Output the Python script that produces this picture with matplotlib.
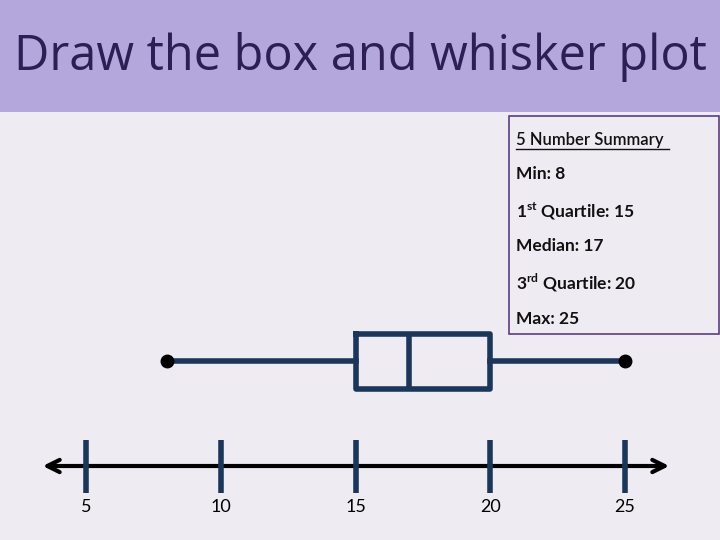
import matplotlib.pyplot as plt
from matplotlib.patches import Rectangle

# Data
tick_values = [5, 10, 15, 20, 25]
tick_labels = ['5', '10', '15', '20', '25']
summary_names = ['Min', '1st Quartile', 'Median', '3rd Quartile', 'Max']
summary_values = [8, 15, 17, 20, 25]

title = 'Draw the box and whisker plot'
bg_color = '#eeecf2'
band_color = '#b4a7db'
navy = '#1b3659'

fig = plt.figure(figsize=(7.2, 5.4), dpi=100, facecolor=bg_color)
ax = fig.add_axes([0, 0, 1, 1])
ax.set_facecolor(bg_color)

# x in data units (5 -> 86px, 25 -> 625px), y in pixel rows
px_per_unit = (625 - 86) / 20
x0 = 5 - 86 / px_per_unit
ax.set_xlim(x0, x0 + 720 / px_per_unit)
ax.set_ylim(540, 0)
ax.axis('off')

# header band
ax.add_patch(Rectangle((0, 1 - 112 / 540), 1, 112 / 540, transform=fig.transFigure,
                       facecolor=band_color, edgecolor='none', zorder=0))
fig.text(0.5, 1 - 57 / 540, title, ha='center', va='center',
         fontsize=35, color='#2d1f56', family='Open Sans')

# summary box
ax.add_patch(Rectangle((509 / 720, 1 - 334 / 540), 210 / 720, 218 / 540,
                       transform=fig.transFigure, facecolor='none',
                       edgecolor='#5b3f7e', lw=1.2, zorder=1))
fig.text(516 / 720, 1 - 140 / 540, '5 Number Summary', ha='left', va='center',
         fontsize=12, color='#111111', family='Lato', fontweight='semibold')
fig.add_artist(plt.Line2D([516 / 720, 669 / 720], [1 - 149 / 540] * 2,
                          color='#111111', lw=1))
line_y = [174, 211, 246, 283, 319]
for name, val, yy in zip(summary_names, summary_values, line_y):
    if name == '1st Quartile':
        s = r'1$^{\mathregular{st}}$ Quartile: ' + str(val)
    elif name == '3rd Quartile':
        s = r'3$^{\mathregular{rd}}$ Quartile: ' + str(val)
    else:
        s = f'{name}: {val}'
    fig.text(516 / 720, 1 - yy / 540, s, ha='left', va='center',
             fontsize=12.5, color='#111111', family='Lato', fontweight='bold')

# box plot
stats = [{'whislo': summary_values[0], 'q1': summary_values[1],
          'med': summary_values[2], 'q3': summary_values[3],
          'whishi': summary_values[4], 'fliers': []}]
ax.bxp(stats, positions=[361], widths=55, orientation='horizontal',
       showcaps=False, showfliers=False, manage_ticks=False,
       boxprops=dict(color=navy, lw=4),
       whiskerprops=dict(color=navy, lw=4),
       medianprops=dict(color=navy, lw=4))
ax.plot([summary_values[0], summary_values[4]], [361, 361], 'o',
        color='black', ms=9, zorder=5)

# number line
ax.annotate('', xy=(x0 + 40 / px_per_unit, 466), xytext=(x0 + 672 / px_per_unit, 466),
            arrowprops=dict(arrowstyle='<->', color='black', lw=3,
                            mutation_scale=22))
ax.vlines(tick_values, 440, 493, color=navy, lw=4, zorder=3)
for v, lab in zip(tick_values, tick_labels):
    ax.text(v, 507, lab, ha='center', va='center', fontsize=13,
            color='black', family='Lato')

fig.savefig('out.png', dpi=100, facecolor=bg_color)
